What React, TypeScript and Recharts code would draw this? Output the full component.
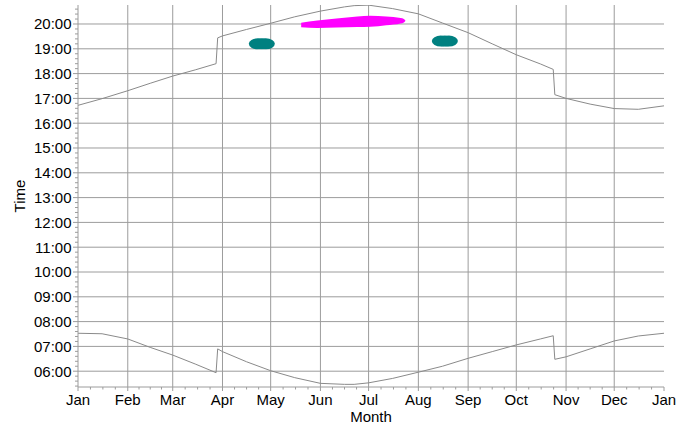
import React from 'react';
import { ComposedChart, Line, Area, Scatter, XAxis, YAxis, CartesianGrid } from 'recharts';

// Day of year (0 = Jan 1) and times in decimal hours
const days = [0, 15, 31, 45, 59, 73, 86, 87, 90, 105, 120, 135, 151, 166, 172, 181, 196, 212, 227, 243, 258, 273, 288, 296, 297, 304, 319, 334, 349, 365];
const sunrise = [7.53, 7.51, 7.30, 6.96, 6.65, 6.29, 5.94, 6.90, 6.79, 6.38, 6.02, 5.74, 5.51, 5.47, 5.47, 5.53, 5.71, 5.96, 6.20, 6.52, 6.79, 7.06, 7.30, 7.43, 6.48, 6.58, 6.90, 7.22, 7.42, 7.53];
const sunset = [16.72, 16.99, 17.31, 17.61, 17.90, 18.15, 18.40, 19.44, 19.52, 19.78, 20.03, 20.29, 20.52, 20.69, 20.74, 20.76, 20.62, 20.41, 20.04, 19.65, 19.20, 18.76, 18.39, 18.17, 17.15, 17.00, 16.77, 16.59, 16.56, 16.70];

// magenta cluster: time range per day
const pinkDays = [139, 149, 161, 174, 182, 192, 201, 203, 204];
const pinkLow = [19.87, 19.84, 19.86, 19.88, 19.89, 19.95, 20.02, 20.06, 20.13];
const pinkHigh = [20.05, 20.14, 20.22, 20.30, 20.33, 20.30, 20.24, 20.20, 20.13];

// teal clusters
const teal1Days = [112, 114.5, 117];
const teal1Times = [19.2, 19.2, 19.2];
const teal2Days = [226, 228.5, 231];
const teal2Times = [19.31, 19.31, 19.31];

const monthStarts = [0, 31, 59, 90, 120, 151, 181, 212, 243, 273, 304, 334, 365];
const monthLabels = ['Jan', 'Feb', 'Mar', 'Apr', 'May', 'Jun', 'Jul', 'Aug', 'Sep', 'Oct', 'Nov', 'Dec', 'Jan'];
const hourTicks = [6, 7, 8, 9, 10, 11, 12, 13, 14, 15, 16, 17, 18, 19, 20];

const X_DOMAIN: [number, number] = [0, 365];
const Y_DOMAIN: [number, number] = [5.363, 20.766];

const sunTable = days.map((d, i) => ({ day: d, sunrise: sunrise[i], sunset: sunset[i] }));
const pinkTable = pinkDays.map((d, i) => ({ day: d, range: [pinkLow[i], pinkHigh[i]] }));
const teal1Table = teal1Days.map((d, i) => ({ day: d, time: teal1Times[i] }));
const teal2Table = teal2Days.map((d, i) => ({ day: d, time: teal2Times[i] }));

// major + minor tick positions (quarter months, 0.2 h)
const xTicks: number[] = [];
monthStarts.slice(0, -1).forEach((s, i) => {
  const e = monthStarts[i + 1];
  for (let q = 0; q < 4; q++) xTicks.push(s + ((e - s) * q) / 4);
});
xTicks.push(365);

const yTicks: number[] = [];
for (let h = 5; h <= 20; h++) {
  for (let j = 0; j < 5; j++) {
    const v = Math.round((h + j * 0.2) * 1000) / 1000;
    if (v >= Y_DOMAIN[0] && v <= Y_DOMAIN[1]) yTicks.push(v);
  }
}

const FONT = '"Liberation Sans", Arial, Helvetica, sans-serif';
const GRID = '#9c9c9c';
const AXIS = '#9c9c9c';
const CURVE = '#8a8a8a';

const fmtHour = (v: number) => `${String(Math.round(v)).padStart(2, '0')}:00`;

const XTick = (props: any) => {
  const { x, y, payload } = props;
  const idx = monthStarts.indexOf(payload.value);
  const major = idx >= 0;
  return (
    <g>
      <line x1={x} x2={x} y1={y} y2={y + (major ? 4 : 2.5)} stroke={AXIS} />
      {major && (
        <text x={x} y={y + 18} textAnchor="middle" fontSize={15} fontFamily={FONT} fill="#000">
          {monthLabels[idx]}
        </text>
      )}
    </g>
  );
};

const YTick = (props: any) => {
  const { x, y, payload } = props;
  const v = payload.value;
  const major = Math.abs(v - Math.round(v)) < 1e-6;
  return (
    <g>
      <line x1={x - (major ? 5 : 3)} x2={x} y1={y} y2={y} stroke={AXIS} />
      {major && (
        <text x={x - 6.5} y={y} dy="0.36em" textAnchor="end" fontSize={15} fontFamily={FONT} fill="#000">
          {fmtHour(v)}
        </text>
      )}
    </g>
  );
};

const TimeLabel = (props: any) => {
  const vb = props.viewBox || { x: 0, y: 5, width: 78, height: 382 };
  const cx = vb.x + 25;
  const cy = vb.y + vb.height / 2;
  return (
    <text x={cx} y={cy} transform={`rotate(-90 ${cx} ${cy})`} textAnchor="middle" fontSize={15} fontFamily={FONT} fill="#000">
      Time
    </text>
  );
};

const TealDot = (p: any) => <ellipse cx={p.cx} cy={p.cy} rx={9} ry={5.5} fill="#008080" />;

export default function App() {
  return (
    <div style={{ position: 'absolute', left: 0, top: 0 }}>
      <ComposedChart width={694} height={426} data={sunTable} margin={{ top: 5, right: 30, bottom: 0, left: 0 }}>
        <CartesianGrid stroke={GRID} verticalValues={monthStarts.slice(1, 12)} horizontalValues={hourTicks} />
        <XAxis
          dataKey="day"
          type="number"
          domain={X_DOMAIN}
          ticks={xTicks}
          interval={0}
          allowDataOverflow
          height={39}
          tickSize={0}
          tickMargin={0}
          tickLine={false}
          axisLine={{ stroke: AXIS }}
          tick={(p: any) => <XTick {...p} />}
          label={{ value: 'Month', position: 'insideBottom', offset: 4, fontSize: 15, fontFamily: FONT, fill: '#000' }}
        />
        <YAxis
          type="number"
          domain={Y_DOMAIN}
          ticks={yTicks}
          interval={0}
          allowDataOverflow
          width={78}
          tickSize={0}
          tickMargin={0}
          tickLine={false}
          axisLine={{ stroke: AXIS }}
          tick={(p: any) => <YTick {...p} />}
          label={{ value: 'Time', content: TimeLabel }}
        />
        <Area
          data={pinkTable}
          dataKey="range"
          type="monotone"
          stroke="none"
          fill="#ff00ff"
          fillOpacity={1}
          dot={false}
          activeDot={false}
          isAnimationActive={false}
        />
        <Scatter data={teal1Table} dataKey="time" shape={TealDot} isAnimationActive={false} />
        <Scatter data={teal2Table} dataKey="time" shape={TealDot} isAnimationActive={false} />
        <Line dataKey="sunset" type="linear" stroke={CURVE} strokeWidth={1} dot={false} activeDot={false} isAnimationActive={false} />
        <Line dataKey="sunrise" type="linear" stroke={CURVE} strokeWidth={1} dot={false} activeDot={false} isAnimationActive={false} />
      </ComposedChart>
    </div>
  );
}
